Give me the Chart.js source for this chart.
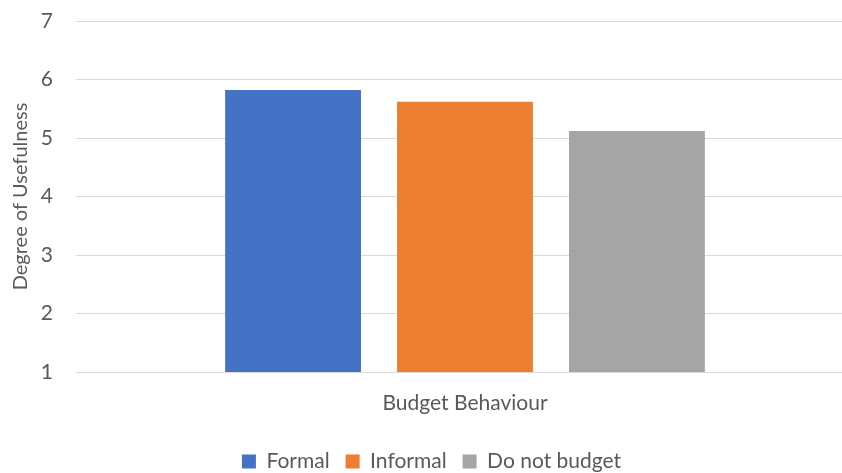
<!DOCTYPE html>
<html>
<head>
<meta charset="utf-8">
<script src="https://cdn.jsdelivr.net/npm/chart.js@4/dist/chart.umd.min.js"></script>
<style>
  html, body { margin: 0; padding: 0; background: #ffffff; overflow: hidden; }
  #wrap { width: 842px; height: 473px; position: relative; overflow: hidden; }
</style>
</head>
<body>
<div id="wrap"><canvas id="c" width="854" height="473"></canvas></div>
<script>
const categories = ["Budget Behaviour"];
const seriesNames = ["Formal", "Informal", "Do not budget"];
const formalValues = [5.82];
const informalValues = [5.62];
const noBudgetValues = [5.12];
const seriesColors = ["#4472C4", "#ED7D31", "#A5A5A5"];
const yTicks = [1, 2, 3, 4, 5, 6, 7];

const FONT = "Lato, 'Liberation Sans', sans-serif";
const TEXT = "#595959";

new Chart(document.getElementById("c"), {
  type: "bar",
  data: {
    labels: categories,
    datasets: [formalValues, informalValues, noBudgetValues].map((vals, i) => ({
      label: seriesNames[i],
      data: vals,
      backgroundColor: seriesColors[i],
      borderWidth: 0,
      categoryPercentage: 0.663,
      barPercentage: 0.79
    }))
  },
  options: {
    responsive: false,
    animation: false,
    layout: { padding: { top: 0, right: 0, left: 9, bottom: -9 } },
    plugins: {
      tooltip: { enabled: false },
      legend: {
        position: "bottom",
        labels: {
          color: TEXT,
          font: { family: FONT, size: 21 },
          boxWidth: 14,
          boxHeight: 14,
          padding: 16
        }
      }
    },
    scales: {
      x: {
        grid: { display: false },
        border: { display: false },
        ticks: { color: TEXT, font: { family: FONT, size: 21 }, padding: 11 },
        afterFit: (scale) => { scale.paddingLeft = 0; scale.paddingRight = 0; scale.height = 63; }
      },
      y: {
        min: 1,
        max: 7,
        afterBuildTicks: (axis) => { axis.ticks = yTicks.map(v => ({ value: v })); },
        grid: { color: "#D9D9D9", lineWidth: 1, drawTicks: false },
        border: { display: false },
        ticks: { color: TEXT, font: { family: FONT, size: 21 }, padding: 23 },
        afterFit: (scale) => { scale.width = 67; scale.paddingTop = 21; scale.paddingBottom = 12; },
        title: {
          display: true,
          text: "Degree of Usefulness",
          color: TEXT,
          font: { family: FONT, size: 20 },
          padding: { top: 0, bottom: 9 }
        }
      }
    }
  }
});
</script>
</body>
</html>
